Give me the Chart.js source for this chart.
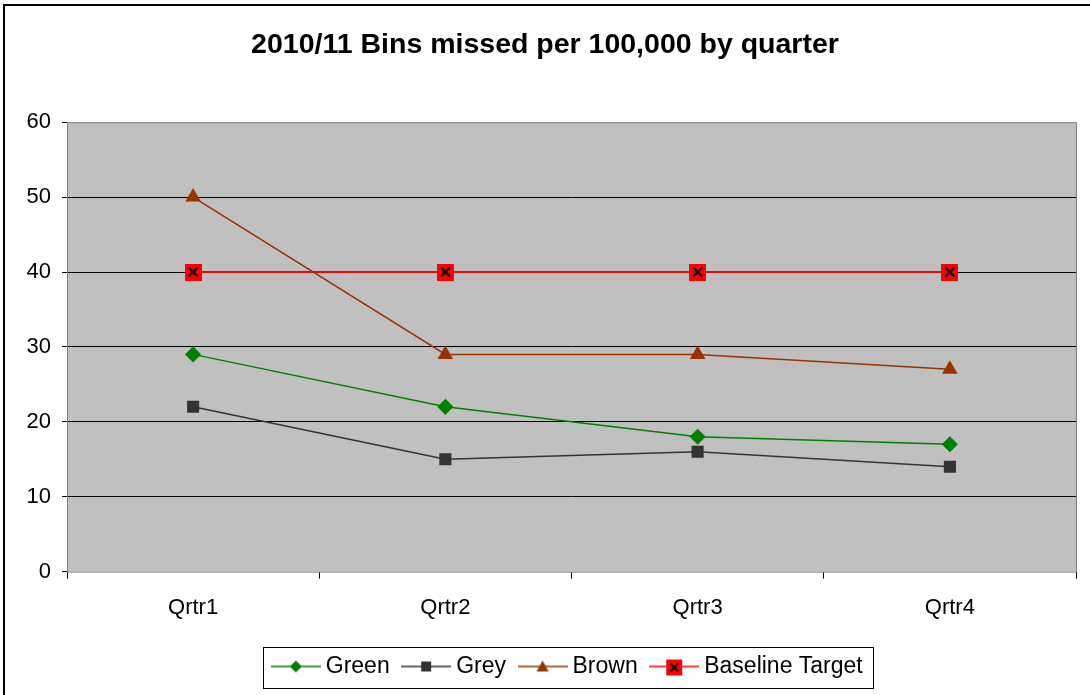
<!DOCTYPE html>
<html>
<head>
<meta charset="utf-8">
<script src="https://cdn.jsdelivr.net/npm/chart.js@4"></script>
<style>
  body { margin: 0; background: #fff; }
  #wrap { width: 1090px; height: 695px; }
</style>
</head>
<body>
<div id="wrap"><canvas id="binsChart" width="1090" height="695"></canvas></div>
<script>
const quarters = ['Qrtr1', 'Qrtr2', 'Qrtr3', 'Qrtr4'];
const green = [29, 22, 18, 17];
const grey = [22, 15, 16, 14];
const brown = [50, 29, 29, 27];
const baseline = [40, 40, 40, 40];

Chart.defaults.font.family = '"Liberation Sans", Arial, sans-serif';
Chart.defaults.color = '#000';

// red square with a black cross, used for the target points
function crossBox(size) {
    const c = document.createElement('canvas');
    c.width = size; c.height = size;
    const g = c.getContext('2d');
    g.fillStyle = '#FF0000';
    g.fillRect(0, 0, size, size);
    g.strokeStyle = '#000';
    g.lineWidth = 2;
    g.beginPath();
    g.moveTo(4, 4); g.lineTo(size - 4, size - 4);
    g.moveTo(size - 4, 4); g.lineTo(4, size - 4);
    g.stroke();
    return c;
}

// legend icon: short line with the marker in the middle
function legendIcon(color, marker) {
    const c = document.createElement('canvas');
    c.width = 50; c.height = 20;
    const g = c.getContext('2d');
    g.strokeStyle = color;
    g.lineWidth = 1.5;
    g.beginPath();
    g.moveTo(0, 10); g.lineTo(50, 10);
    g.stroke();
    g.fillStyle = color;
    if (marker === 'diamond') {
        g.beginPath();
        g.moveTo(25, 4); g.lineTo(31, 10); g.lineTo(25, 16); g.lineTo(19, 10);
        g.closePath(); g.fill();
    } else if (marker === 'square') {
        g.fillRect(20, 5, 10, 10);
    } else if (marker === 'triangle') {
        g.beginPath();
        g.moveTo(25, 4); g.lineTo(31, 15); g.lineTo(19, 15);
        g.closePath(); g.fill();
    } else {
        g.drawImage(crossBox(16), 17, 3);
    }
    return c;
}

const target = crossBox(17);

const chartFrame = {
    id: 'chartFrame',
    afterLayout(chart) {
        // legend sits a little right of centre in the original
        const lg = chart.legend;
        if (lg) {
            lg.left += 25;
            lg.right += 25;
        }
    },
    beforeDraw(chart) {
        const { ctx, chartArea: a } = chart;
        ctx.save();
        ctx.fillStyle = '#C0C0C0';
        ctx.fillRect(a.left, a.top, a.right - a.left, a.bottom - a.top);
        ctx.restore();
    },
    afterDraw(chart) {
        const { ctx, chartArea: a, legend } = chart;
        ctx.save();
        ctx.strokeStyle = '#808080';
        ctx.lineWidth = 1;
        ctx.strokeRect(a.left + 0.5, a.top + 0.5, a.right - a.left, a.bottom - a.top);
        // outer frame (left and top edges only show)
        ctx.strokeStyle = '#000';
        ctx.lineWidth = 2;
        ctx.beginPath();
        ctx.moveTo(4, 695); ctx.lineTo(4, 5); ctx.lineTo(1090, 5);
        ctx.stroke();
        ctx.lineWidth = 1;
        if (legend && legend.legendHitBoxes.length) {
            const boxes = legend.legendHitBoxes;
            const l = Math.min(...boxes.map(b => b.left)) - 14.5;
            const r = Math.max(...boxes.map(b => b.left + b.width)) + 10;
            const cy = boxes[0].top + boxes[0].height / 2;
            ctx.strokeRect(Math.round(l) + 0.5, Math.round(cy - 19) + 0.5, Math.round(r - l), 41);
        }
        ctx.restore();
    }
};

const icons = [
    legendIcon('#008000', 'diamond'),
    legendIcon('#333333', 'square'),
    legendIcon('#993300', 'triangle'),
    legendIcon('#FF0000', 'cross')
];

new Chart(document.getElementById('binsChart'), {
    type: 'line',
    data: {
        labels: quarters,
        datasets: [{
            label: 'Green',
            data: green,
            borderColor: '#008000',
            backgroundColor: '#008000',
            borderWidth: 1.5,
            pointStyle: 'rectRot',
            pointRadius: 7,
            tension: 0
        }, {
            label: 'Grey',
            data: grey,
            borderColor: '#333333',
            backgroundColor: '#333333',
            borderWidth: 1.5,
            pointStyle: 'rect',
            pointRadius: 7.5,
            tension: 0
        }, {
            label: 'Brown',
            data: brown,
            borderColor: '#993300',
            backgroundColor: '#993300',
            borderWidth: 1.5,
            pointStyle: 'triangle',
            pointRadius: 7.5,
            tension: 0
        }, {
            label: 'Baseline Target',
            data: baseline,
            borderColor: '#FF0000',
            backgroundColor: '#FF0000',
            borderWidth: 2,
            pointStyle: target,
            tension: 0
        }]
    },
    options: {
        responsive: false,
        animation: false,
        layout: {
            padding: { left: 0, right: 0, top: 0, bottom: 7 }
        },
        plugins: {
            title: {
                display: true,
                text: '2010/11 Bins missed per 100,000 by quarter',
                font: { size: 28.5, weight: 'bold' },
                color: '#000',
                padding: { top: 28, bottom: 60 }
            },
            legend: {
                position: 'bottom',
                labels: {
                    usePointStyle: true,
                    pointStyleWidth: 37,
                    boxHeight: 20,
                    padding: 18,
                    font: { size: 23 },
                    color: '#000',
                    generateLabels(chart) {
                        return chart.data.datasets.map((ds, i) => ({
                            text: ds.label,
                            pointStyle: icons[i],
                            fillStyle: ds.borderColor,
                            strokeStyle: ds.borderColor,
                            lineWidth: 0,
                            datasetIndex: i
                        }));
                    }
                }
            },
            tooltip: { enabled: false }
        },
        scales: {
            x: {
                offset: true,
                grid: {
                    offset: true,
                    drawOnChartArea: false,
                    color: '#000',
                    tickLength: 7
                },
                border: { display: false },
                ticks: { font: { size: 22 }, color: '#000', padding: 16 }
            },
            y: {
                min: 0,
                max: 60,
                afterFit(scale) { scale.width = 67; },
                grid: {
                    color: ctx => (ctx.tick.value === 0 || ctx.tick.value === 60) ? 'rgba(0,0,0,0)' : '#000',
                    tickColor: '#000',
                    tickLength: 5
                },
                border: { display: false },
                ticks: { stepSize: 10, font: { size: 22 }, color: '#000', padding: 11 }
            },
            yRight: {
                position: 'right',
                display: true,
                afterFit(scale) { scale.width = 14; },
                grid: { display: false },
                border: { display: false },
                ticks: { display: false }
            }
        }
    },
    plugins: [chartFrame]
});
</script>
</body>
</html>
